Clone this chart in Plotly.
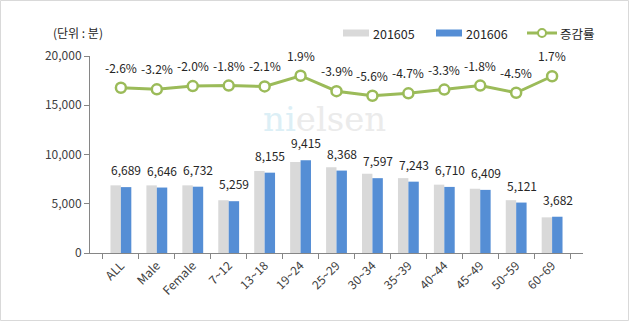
import plotly.graph_objects as go

categories = ["ALL", "Male", "Female", "7~12", "13~18", "19~24", "25~29",
              "30~34", "35~39", "40~44", "45~49", "50~59", "60~69"]
may_values = [6868, 6866, 6869, 5355, 8330, 9239, 8707, 8048, 7600, 6939, 6526, 5362, 3620]
jun_values = [6689, 6646, 6732, 5259, 8155, 9415, 8368, 7597, 7243, 6710, 6409, 5121, 3682]
change_pct = [-2.6, -3.2, -2.0, -1.8, -2.1, 1.9, -3.9, -5.6, -4.7, -3.3, -1.8, -4.5, 1.7]
y_ticks = [0, 5000, 10000, 15000, 20000]
series_names = ["201605", "201606", "증감률"]

FONT = "Noto Sans CJK KR"
GRAY, BLUE, GREEN = "#D9D9D9", "#558ED5", "#9BBB59"
W, H = 630, 322
L, R, T, B = 90, 47, 56, 69
pw, ph = W - L - R, H - T - B


def px(x):
    return (x - L) / pw


def py(y):
    return (T + ph - y) / ph


fig = go.Figure()
fig.add_trace(go.Bar(x=categories, y=may_values, name=series_names[0],
                     marker=dict(color=GRAY, line=dict(width=0))))
fig.add_trace(go.Bar(x=categories, y=jun_values, name=series_names[1],
                     marker=dict(color=BLUE, line=dict(width=0))))
fig.add_trace(go.Scatter(x=categories, y=change_pct, name=series_names[2], yaxis="y2",
                         mode="lines+markers",
                         line=dict(color=GREEN, width=3),
                         marker=dict(symbol="circle", size=10, color="white",
                                     line=dict(color=GREEN, width=2.5))))

TXT = "#262626"
annotations = []
# watermark (drawn first so it sits behind the labels)
annotations.append(dict(x=px(324), y=py(119), xref="paper", yref="paper",
                        text="<span style='color:#DCEFF6'>ni</span><span style='color:#EBEBEB'>elsen</span>",
                        showarrow=False, xanchor="center", yanchor="middle",
                        font=dict(family="DejaVu Serif", size=34)))
for c, v in zip(categories, jun_values):
    annotations.append(dict(x=c, y=v, xref="x", yref="y", text=f"{v:,}",
                            showarrow=False, yanchor="bottom", xshift=5.5, yshift=7,
                            font=dict(family=FONT, size=12, color=TXT)))
for c, p in zip(categories, change_pct):
    annotations.append(dict(x=c, y=p, xref="x", yref="y2", text=f"{p:.1f}%",
                            showarrow=False, yanchor="bottom", yshift=10,
                            font=dict(family=FONT, size=12, color=TXT)))
# unit label
annotations.append(dict(x=px(78), y=py(32), xref="paper", yref="paper",
                        text="(단위 : 분)", showarrow=False, xanchor="center", yanchor="middle",
                        font=dict(family=FONT, size=12, color=TXT)))

shapes = [dict(type="rect", xref="paper", yref="paper", layer="below",
               x0=px(0.5), x1=px(628.5), y0=py(320.5), y1=py(0.5),
               line=dict(color="#D9D9D9", width=1), fillcolor="rgba(0,0,0,0)")]

# custom legend (wide swatches as in the reference)
leg_y = 33
shapes.append(dict(type="rect", xref="paper", yref="paper", x0=px(343), x1=px(369),
                   y0=py(36.5), y1=py(29.5), fillcolor=GRAY, line=dict(width=0)))
shapes.append(dict(type="rect", xref="paper", yref="paper", x0=px(436), x1=px(462),
                   y0=py(36.5), y1=py(29.5), fillcolor=BLUE, line=dict(width=0)))
shapes.append(dict(type="line", xref="paper", yref="paper", x0=px(527), x1=px(557),
                   y0=py(leg_y), y1=py(leg_y), line=dict(color=GREEN, width=3)))
shapes.append(dict(type="circle", xref="paper", yref="paper", x0=px(538), x1=px(546),
                   y0=py(leg_y + 4), y1=py(leg_y - 4), fillcolor="white",
                   line=dict(color=GREEN, width=2)))
for name, xs in zip(series_names, [371, 464, 558]):
    annotations.append(dict(x=px(xs), y=py(leg_y), xref="paper", yref="paper",
                            text=name, showarrow=False, xanchor="left", yanchor="middle",
                            font=dict(family=FONT, size=12.5, color=TXT)))

fig.update_layout(
    width=W, height=H,
    margin=dict(l=L, r=R, t=T, b=B, pad=0),
    paper_bgcolor="white", plot_bgcolor="white",
    barmode="group", bargap=0.42, bargroupgap=0,
    font=dict(family=FONT, size=12, color="#595959"),
    showlegend=False,
    xaxis=dict(type="category", showline=True, linecolor="#868686", linewidth=1,
               ticks="outside", tickson="boundaries", ticklen=5, tickcolor="#868686",
               tickangle=-45, showgrid=False, zeroline=False,
               tickfont=dict(family=FONT, size=12, color="#404040")),
    yaxis=dict(range=[0, 20000], tickvals=y_ticks, ticktext=[f"{v:,}" for v in y_ticks],
               showline=True, linecolor="#868686", linewidth=1,
               ticks="outside", ticklen=5, tickcolor="#868686",
               showgrid=False, zeroline=False,
               tickfont=dict(family=FONT, size=12, color="#404040")),
    yaxis2=dict(range=[-64.6, 9.3], overlaying="y", side="right", visible=False,
                showgrid=False, zeroline=False),
    annotations=annotations,
    shapes=shapes,
)

fig.write_html("out.html")
